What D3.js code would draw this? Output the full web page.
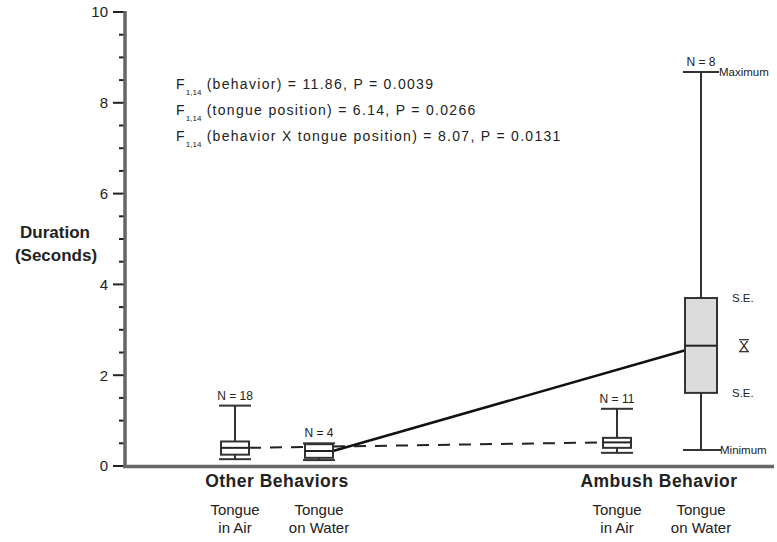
<!DOCTYPE html>
<html><head><meta charset="utf-8">
<script src="https://cdn.jsdelivr.net/npm/d3@7"></script>
<style>body{margin:0;background:#fff}svg{display:block}text{font-family:"Liberation Sans",Arial,sans-serif;fill:#222}</style>
</head><body><svg id="c" width="777" height="542"></svg>
<script>
const behaviors = ["Other Behaviors", "Ambush Behavior"];
const tongue = ["Tongue in Air", "Tongue on Water"];
const groupB = ["Other Behaviors", "Other Behaviors", "Ambush Behavior", "Ambush Behavior"];
const groupT = ["Tongue in Air", "Tongue on Water", "Tongue in Air", "Tongue on Water"];
const nLabels = ["N = 18", "N = 4", "N = 11", "N = 8"];
const means = [0.40, 0.33, 0.52, 2.65];
const seLow = [0.25, 0.18, 0.40, 1.61];
const seHigh = [0.54, 0.48, 0.62, 3.70];
const mins = [0.15, 0.13, 0.29, 0.35];
const maxs = [1.33, 0.50, 1.26, 8.68];
const yTicks = [0, 2, 4, 6, 8, 10];
const statsRest = ["(behavior) = 11.86, P = 0.0039", "(tongue position) = 6.14, P = 0.0266", "(behavior X tongue position) = 8.07, P = 0.0131"];

const svg = d3.select("#c");
const y = d3.scaleLinear().domain([0, 10]).range([466, 12]);
const xo = d3.scalePoint().domain(behaviors).range([277, 659]);
const xi = d3.scalePoint().domain(tongue).range([-42, 42]);
const xc = i => xo(groupB[i]) + xi(groupT[i]);
const axisX = 125;

// axis ticks
const ag = svg.append("g").attr("transform", `translate(${axisX},0)`);
ag.selectAll("line.t").data(d3.range(0, 10.01, 0.5)).join("line")
  .attr("x1", d => d % 2 === 0 ? -12 : -6).attr("x2", 0)
  .attr("y1", d => y(d)).attr("y2", d => y(d)).attr("stroke", "#222").attr("stroke-width", 2);
ag.selectAll("text").data(yTicks).join("text")
  .attr("x", -17).attr("y", d => y(d)).attr("dy", "0.36em").attr("text-anchor", "end")
  .attr("font-size", 15).attr("fill", "#444").text(d => d);
ag.append("line").attr("x1", 0).attr("x2", 0).attr("y1", y(10) - 1).attr("y2", y(0) + 1)
  .attr("stroke", "#666").attr("stroke-width", 3.5);
// baseline
svg.append("line").attr("x1", axisX - 2).attr("x2", 774).attr("y1", y(0) + 0.5).attr("y2", y(0) + 0.5)
  .attr("stroke", "#666").attr("stroke-width", 3.5);

// y label
svg.append("text").attr("x", 55).attr("y", 238).attr("text-anchor", "middle").attr("font-size", 17).attr("font-weight", "bold").text("Duration");
svg.append("text").attr("x", 56).attr("y", 261).attr("text-anchor", "middle").attr("font-size", 17).attr("font-weight", "bold").text("(Seconds)");

// stats
statsRest.forEach((s, i) => {
  const t = svg.append("text").attr("x", 176).attr("y", 89 + i * 26).attr("font-size", 14).attr("letter-spacing", 1.3).attr("fill", "#333");
  t.append("tspan").text("F");
  t.append("tspan").attr("font-size", 8).attr("letter-spacing", 0).attr("dy", 6).text("1,14");
  t.append("tspan").attr("dy", -6).text(" " + s);
});

// connecting lines
svg.append("line").attr("x1", xc(0) + 14).attr("x2", xc(2) - 14).attr("y1", y(means[0])).attr("y2", y(means[2]))
  .attr("stroke", "#222").attr("stroke-width", 2).attr("stroke-dasharray", "12,9");
svg.append("line").attr("x1", xc(1) + 14).attr("x2", xc(3)).attr("y1", y(means[1])).attr("y2", y(means[3]))
  .attr("stroke", "#111").attr("stroke-width", 2.5);

// boxes
const bw = [28, 28, 28, 32];
means.forEach((m, i) => {
  const cx = xc(i), w = bw[i];
  const g = svg.append("g");
  g.append("line").attr("x1", cx).attr("x2", cx).attr("y1", y(maxs[i])).attr("y2", y(seHigh[i])).attr("stroke", "#333").attr("stroke-width", 2);
  g.append("line").attr("x1", cx).attr("x2", cx).attr("y1", y(seLow[i])).attr("y2", y(mins[i])).attr("stroke", "#333").attr("stroke-width", 2);
  g.append("line").attr("x1", cx - w / 2 - 2).attr("x2", cx + w / 2 + 2).attr("y1", y(maxs[i])).attr("y2", y(maxs[i])).attr("stroke", "#333").attr("stroke-width", 2);
  g.append("line").attr("x1", cx - w / 2 - 2).attr("x2", i === 3 ? cx + w / 2 + 4 : cx + w / 2 + 2).attr("y1", y(mins[i])).attr("y2", y(mins[i])).attr("stroke", "#333").attr("stroke-width", 2);
  g.append("rect").attr("x", cx - w / 2).attr("width", w).attr("y", y(seHigh[i])).attr("height", y(seLow[i]) - y(seHigh[i]))
    .attr("fill", i === 3 ? "#dcdcdc" : "#fff").attr("stroke", "#333").attr("stroke-width", 2);
  g.append("line").attr("x1", cx - w / 2).attr("x2", cx + w / 2).attr("y1", y(m)).attr("y2", y(m)).attr("stroke", "#222").attr("stroke-width", 2);
  g.append("text").attr("x", cx).attr("y", y(maxs[i]) - 6).attr("text-anchor", "middle").attr("font-size", 12).attr("fill", "#333").text(nLabels[i]);
});

// legend labels on the big box
const bx = xc(3) + 18;
svg.append("text").attr("x", bx).attr("y", y(maxs[3])).attr("dy", "0.35em").attr("font-size", 11.5).attr("fill", "#333").text("Maximum");
svg.append("text").attr("x", bx + 13).attr("y", y(seHigh[3])).attr("dy", "0.35em").attr("font-size", 11.5).attr("fill", "#333").text("S.E.");
svg.append("text").attr("x", bx + 13).attr("y", y(seLow[3])).attr("dy", "0.35em").attr("font-size", 11.5).attr("fill", "#333").text("S.E.");
svg.append("text").attr("x", bx + 1).attr("y", y(mins[3])).attr("dy", "0.35em").attr("font-size", 11.5).attr("fill", "#333").text("Minimum");
svg.append("text").attr("x", bx + 25).attr("y", y(means[3])).attr("dy", "0.36em").attr("text-anchor", "middle").attr("font-size", 14).text("X");
svg.append("line").attr("x1", bx + 20).attr("x2", bx + 30).attr("y1", y(means[3]) - 6).attr("y2", y(means[3]) - 6).attr("stroke", "#222").attr("stroke-width", 1.2);
svg.append("line").attr("x1", bx + 20).attr("x2", bx + 30).attr("y1", y(means[3]) + 6).attr("y2", y(means[3]) + 6).attr("stroke", "#222").attr("stroke-width", 1.2);

// x labels
behaviors.forEach(b => {
  svg.append("text").attr("x", xo(b)).attr("y", 487).attr("text-anchor", "middle").attr("font-size", 17.5).attr("letter-spacing", 0.5).attr("font-weight", "bold").text(b);
});
groupT.forEach((t, i) => {
  const parts = t === "Tongue in Air" ? ["Tongue", "in Air"] : ["Tongue", "on Water"];
  parts.forEach((p, j) => svg.append("text").attr("x", xc(i)).attr("y", 515 + j * 18).attr("text-anchor", "middle").attr("font-size", 15).attr("fill", "#333").text(p));
});
</script></body></html>
